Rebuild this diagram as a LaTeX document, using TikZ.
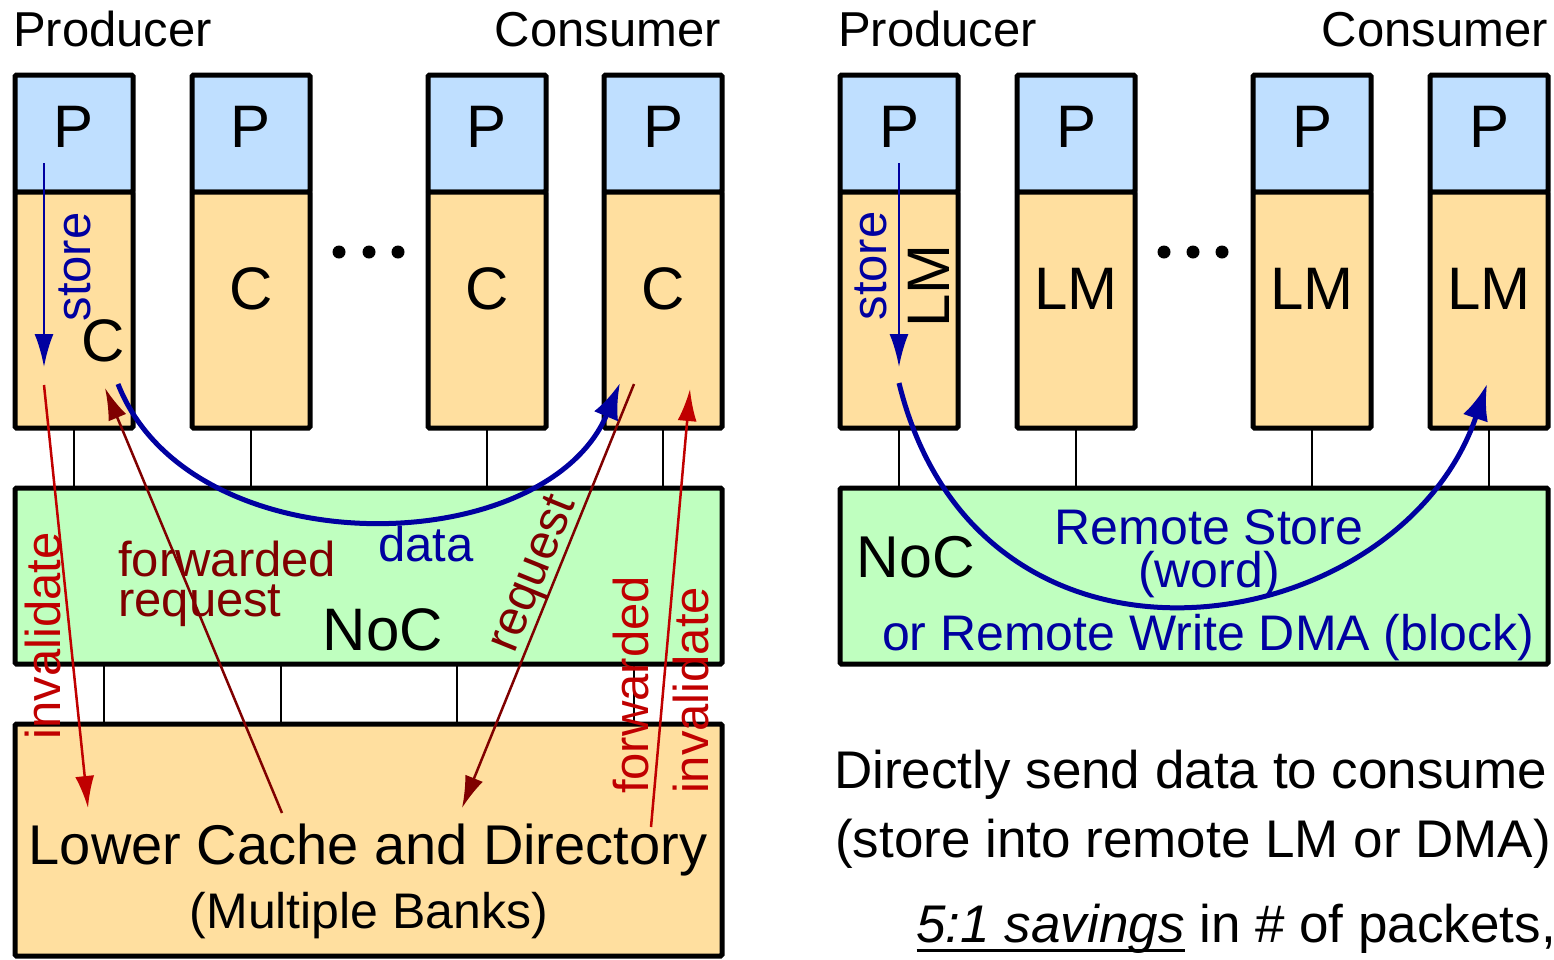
\documentclass[tikz,border=0pt]{standalone}
\usepackage{fontspec}
\setmainfont{Liberation Sans}
\usetikzlibrary{arrows.meta,calc}

\definecolor{pblue}{RGB}{191,223,255}
\definecolor{corange}{RGB}{255,223,159}
\definecolor{nocgreen}{RGB}{191,255,191}
\definecolor{arrowblue}{RGB}{0,0,160}
\definecolor{sigred}{RGB}{192,0,0}
\definecolor{reqred}{RGB}{128,0,0}

\newcommand\fsz[1]{\fontsize{#1}{#1}\selectfont}
% underline placed just below the baseline
\newcommand\ulbox[1]{\setbox0=\hbox{#1}\rlap{\rule[-10pt]{\wd0}{3pt}}\box0\relax}

\begin{document}
\begin{tikzpicture}[x=1pt,y=-1pt,
  block/.style={draw, line width=5pt, rounded corners=1.5pt, inner sep=0pt, outer sep=0pt},
  procbox/.style={block, fill=pblue, minimum width=118pt, minimum height=117pt},
  membox/.style={block, fill=corange, minimum width=118pt, minimum height=236pt},
  netbox/.style={block, fill=nocgreen, minimum width=707pt, minimum height=176pt},
  link/.style={line width=2pt},
  bigtxt/.style={font=\fsz{60}, inner sep=0pt},
  lbl/.style={font=\fsz{49}, inner sep=0pt},
  dotmark/.style={circle, fill=black, inner sep=0pt, minimum size=13pt},
  storearrow/.style={arrowblue, line width=2.5pt, -{Latex[length=33pt,width=19pt]}},
  msg/.style={line width=2.5pt, -{Latex[length=32pt,width=19pt]}},
  dataarrow/.style={arrowblue, line width=5pt, -{Latex[length=36pt,width=26pt]}}]

\useasboundingbox (0,0) rectangle (1554,959);

% ---------------- left: cache-coherent system ----------------
\foreach \i/\x in {1/74,2/251,3/487,4/663}{
  \node[procbox] (pL\i) at (\x,133.5) {};
  \node[membox]  (mL\i) at (\x,310) {};
}
\node[netbox] (nocL) at (368.5,576) {};
\node[block, fill=corange, minimum width=707pt, minimum height=232pt] (low) at (368.5,840) {};

\foreach \i in {1,2,3,4}{
  \draw[link] (mL\i.south) -- (mL\i.south |- nocL.north);
}
\foreach \i/\x in {1/104,2/281,3/457,4/634}{
  \coordinate (bk\i) at (\x,700);
  \draw[link] (nocL.south -| bk\i) -- (low.north -| bk\i);
}

\node[dotmark] (dL1) at (339,252) {};
\node[dotmark] (dL2) at (369,252) {};
\node[dotmark] (dL3) at (398,252) {};

\node[lbl, anchor=base west] (prodL) at (13,46) {Producer};
\node[lbl, anchor=base east] (consL) at (721,46) {Consumer};

\foreach \i/\x in {1/74,2/251,3/487,4/663}{
  \node[bigtxt] (tpL\i) at (\x,127) {P};
}
\node[bigtxt] (tcL1) at (103,341) {C};
\node[bigtxt] (tcL2) at (251,289) {C};
\node[bigtxt] (tcL3) at (487,289) {C};
\node[bigtxt] (tcL4) at (663,289) {C};

\node[bigtxt, anchor=base] (nocLtxt) at (383,650) {NoC};
\node[font=\fsz{56}, inner sep=0pt, anchor=base] (lowtxt) at (368,864) {Lower Cache and Directory};
\node[font=\fsz{50}, inner sep=0pt, anchor=base] (banktxt) at (369,928) {(Multiple Banks)};

% message arrows
\coordinate (stLa) at (44,163);
\coordinate (stLb) at (44,367);
\draw[storearrow] (stLa) -- (stLb);
\node[lbl, arrowblue, rotate=90] (stLtxt) at (75,267) {store};

\coordinate (invA) at (44,385);
\coordinate (invB) at (88,808);
\draw[msg, sigred] (invA) -- (invB);
\node[lbl, sigred, rotate=90] (invtxt) at (43,636) {invalidate};

\coordinate (frA) at (282,813);
\coordinate (frB) at (105,388);
\draw[msg, reqred] (frA) -- (frB);
\node[inner sep=0pt, reqred, align=left, font=\fontsize{49}{40}\selectfont, anchor=west] (frtxt) at (118,584) {forwarded\\request};

\coordinate (rqA) at (634,384);
\coordinate (rqB) at (462,808);
\draw[msg, reqred] (rqA) -- (rqB);
\node[lbl, reqred, rotate=68] (rqtxt) at (535,575) {request};

\coordinate (fiA) at (651,827);
\coordinate (fiB) at (690,389);
\draw[msg, sigred] (fiA) -- (fiB);
\node[inner sep=0pt, sigred, align=left, font=\fontsize{49}{60}\selectfont, rotate=90] (fitxt) at (661,685) {forwarded\\invalidate};

\coordinate (dA) at (118,384);
\coordinate (dB) at (620,383);
\draw[dataarrow] (dA) .. controls (190,568) and (545,562) .. (dB);
\node[lbl, arrowblue, anchor=base west] (datatxt) at (378,561) {data};

% ---------------- right: local memories ----------------
\foreach \i/\x in {1/899,2/1076,3/1312,4/1489}{
  \node[procbox] (pR\i) at (\x,133.5) {};
  \node[membox]  (mR\i) at (\x,310) {};
}
\node[netbox, minimum width=708pt] (nocR) at (1194,576) {};
\foreach \i in {1,2,3,4}{
  \draw[link] (mR\i.south) -- (mR\i.south |- nocR.north);
}

\node[dotmark] (dR1) at (1164,252) {};
\node[dotmark] (dR2) at (1193,252) {};
\node[dotmark] (dR3) at (1222,252) {};

\node[lbl, anchor=base west] (prodR) at (838,46) {Producer};
\node[lbl, anchor=base east] (consR) at (1548,46) {Consumer};

\foreach \i/\x in {1/899,2/1076,3/1312,4/1489}{
  \node[bigtxt] (tpR\i) at (\x,127) {P};
}
\node[bigtxt, rotate=90] (lmR1) at (929,286) {LM};
\node[bigtxt] (lmR2) at (1076,289) {LM};
\node[bigtxt] (lmR3) at (1312,289) {LM};
\node[bigtxt] (lmR4) at (1489,289) {LM};

\coordinate (stRa) at (899,163);
\coordinate (stRb) at (899,367);
\draw[storearrow] (stRa) -- (stRb);
\node[lbl, arrowblue, rotate=90] (stRtxt) at (871,266) {store};

\coordinate (rsA) at (899,383);
\coordinate (rsB) at (1487,384);
\draw[dataarrow] (rsA) .. controls (980,712) and (1400,642) .. (rsB);

\node[font=\fsz{59}, inner sep=0pt, anchor=base] (nocRtxt) at (916,577) {NoC};
\node[inner sep=0pt, arrowblue, align=center, font=\fontsize{50}{43}\selectfont] (rstxt) at (1209,554) {Remote Store\\(word)};
\node[font=\fsz{50}, inner sep=0pt, arrowblue, anchor=base] (dmatxt) at (1208,650) {or Remote Write DMA (block)};

\node[font=\fsz{53}, inner sep=0pt, anchor=base west] (note1) at (834,788) {Directly send data to consume};
\node[font=\fsz{53}, inner sep=0pt, anchor=base west] (note2) at (835,857) {(store into remote LM or DMA)};
\node[font=\fsz{53}, inner sep=0pt, anchor=base east] (note3) at (1556,942) {\ulbox{\itshape 5:1 savings} in \# of packets,};

\end{tikzpicture}
\end{document}
